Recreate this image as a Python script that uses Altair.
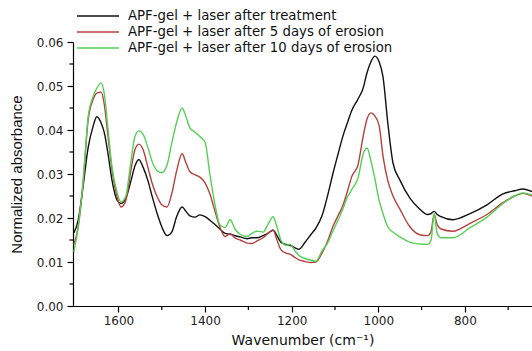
import altair as alt
import pandas as pd

# ---- data ----
wavenumber = [1703, 1693, 1682, 1670, 1659, 1650, 1640, 1633, 1624, 1615, 1603, 1594, 1583, 1571,
              1562, 1553, 1543, 1532, 1521, 1509, 1500, 1488, 1477, 1465, 1453, 1444, 1435, 1423,
              1412, 1400, 1389, 1377, 1366, 1354, 1342, 1331, 1319, 1303, 1292, 1280, 1266, 1255,
              1243, 1234, 1225, 1213, 1204, 1192, 1183, 1169, 1155, 1144, 1130, 1116, 1105, 1093,
              1082, 1070, 1061, 1047, 1035, 1026, 1017, 1008, 998, 989, 978, 966, 950, 927, 904,
              886, 878, 871, 864, 855, 828, 788, 749, 712, 685, 666, 645]

black = [.0166, .0195, .0270, .0360, .0407, .0430, .0416, .0395, .0345, .0286, .0240, .0233, .0245, .0285,
         .0318, .0333, .0315, .0285, .0245, .0205, .0180, .0160, .0168, .0205, .0225, .0215, .0205, .0202,
         .0207, .0203, .0195, .0185, .0175, .0165, .0163, .0160, .0157, .0153, .0155, .0155, .0160, .0165,
         .0172, .0160, .0145, .0140, .0138, .0132, .0129, .0145, .0163, .0177, .0205, .0255, .0300, .0345,
         .0385, .0420, .0445, .0470, .0495, .0530, .0555, .0568, .0555, .0520, .0416, .0325, .0286, .0245, .0220,
         .0208, .0210, .0215, .0208, .0203, .0196, .0210, .0230, .0255, .0262, .0266, .0260]

red = [.0140, .0180, .0275, .0423, .0468, .0484, .0486, .0460, .0384, .0310, .0248, .0225, .0240, .0310,
       .0355, .0368, .0355, .0315, .0275, .0245, .0230, .0225, .0255, .0310, .0346, .0325, .0305, .0298,
       .0293, .0280, .0255, .0215, .0180, .0158, .0164, .0155, .0150, .0143, .0142, .0148, .0155, .0165,
       .0173, .0150, .0128, .0120, .0118, .0110, .0105, .0101, .0099, .0100, .0120, .0150, .0180, .0205,
       .0228, .0265, .0295, .0320, .0385, .0425, .0439, .0432, .0410, .0340, .0285, .0250, .0220, .0180, .0162,
       .0160, .0170, .0208, .0185, .0175, .0170, .0188, .0208, .0235, .0250, .0256, .0250]

green = [.0123, .0180, .0280, .0430, .0475, .0495, .0507, .0484, .0400, .0316, .0257, .0236, .0250, .0330,
         .0385, .0398, .0390, .0360, .0325, .0306, .0303, .0320, .0370, .0420, .0450, .0430, .0405, .0395,
         .0385, .0372, .0300, .0230, .0185, .0178, .0196, .0175, .0163, .0158, .0165, .0170, .0168, .0185,
         .0203, .0180, .0150, .0138, .0140, .0125, .0115, .0108, .0104, .0102, .0125, .0145, .0170, .0195,
         .0220, .0250, .0265, .0290, .0345, .0359, .0330, .0290, .0240, .0210, .0180, .0168, .0157, .0145, .0141,
         .0140, .0150, .0210, .0165, .0155, .0155, .0178, .0202, .0233, .0250, .0257, .0252]

series_names = ["APF-gel + laser after treatment",
                "APF-gel + laser after 5 days of erosion",
                "APF-gel + laser after 10 days of erosion"]
colors = ["#111111", "#b5403f", "#55d055"]

x_major = [1600, 1400, 1200, 1000, 800]
x_minor = [1500, 1300, 1100, 900, 700]
y_major = [0.0, 0.01, 0.02, 0.03, 0.04, 0.05, 0.06]
y_minor = [0.005, 0.015, 0.025, 0.035, 0.045, 0.055]

# ---- build table ----
rows = []
for name, vals in zip(series_names, [black, red, green]):
    for w, v in zip(wavenumber, vals):
        rows.append({"wn": w, "ab": v, "series": name})
df = pd.DataFrame(rows)

W, H = 459, 264
FONT = "DejaVu Sans"

xscale = alt.Scale(domain=[645, 1705], reverse=True, nice=False, zero=False)
yscale = alt.Scale(domain=[0, 0.06], nice=False, zero=True)

x_axis = alt.Axis(values=x_major, format="d", title="Wavenumber (cm⁻¹)", grid=False,
                  domainColor="black", domainWidth=1.2, tickColor="black", tickWidth=1.2,
                  tickSize=6, labelPadding=3, labelFont=FONT, labelFontSize=12,
                  labelColor="#222222", titleFont=FONT, titleFontSize=14,
                  titleFontWeight="normal", titleColor="#111111", titlePadding=7,
                  labelFlush=False)
y_axis = alt.Axis(values=y_major, format=".2f", title="Normalized absorbance", grid=False,
                  domainColor="black", domainWidth=1.2, tickColor="black", tickWidth=1.2,
                  tickSize=6, labelPadding=4, labelFont=FONT, labelFontSize=12,
                  labelColor="#222222", titleFont="Liberation Sans", titleFontSize=15,
                  titleFontWeight="normal", titleColor="#111111", titlePadding=12,
                  labelFlush=False)

lines = alt.Chart(df).mark_line(strokeWidth=1.4, interpolate="monotone", clip=True).encode(
    x=alt.X("wn:Q", scale=xscale, axis=x_axis),
    y=alt.Y("ab:Q", scale=yscale, axis=y_axis),
    color=alt.Color("series:N", scale=alt.Scale(domain=series_names, range=colors), legend=None),
)

xminor = alt.Chart(pd.DataFrame({"wn": x_minor})).mark_rule(color="black", strokeWidth=1.2).encode(
    x=alt.X("wn:Q", scale=xscale, axis=x_axis),
    y=alt.value(H), y2=alt.value(H + 4),
)
yminor = alt.Chart(pd.DataFrame({"ab": y_minor})).mark_rule(color="black", strokeWidth=1.2).encode(
    y=alt.Y("ab:Q", scale=yscale, axis=y_axis),
    x=alt.value(-3.5), x2=alt.value(0),
)

legend_layers = []
row_y = [-26, -10, 6]
for name, col, yy in zip(series_names, colors, row_y):
    d = pd.DataFrame({"label": [name]})
    legend_layers.append(
        alt.Chart(d).mark_rule(color=col, strokeWidth=1.4).encode(
            x=alt.value(4), x2=alt.value(46), y=alt.value(yy))
    )
    legend_layers.append(
        alt.Chart(d).mark_text(align="left", baseline="middle", font=FONT, fontSize=13.3,
                               color="#111111").encode(
            x=alt.value(55), y=alt.value(yy), text="label:N")
    )

chart = alt.layer(lines, xminor, yminor, *legend_layers).properties(
    width=W, height=H,
    autosize=alt.AutoSizeParams(type="none"),
    padding={"left": 73, "top": 42, "right": 0, "bottom": 45},
    background="white",
).configure_view(stroke=None)

chart.save("out.html", embed_options={"renderer": "svg", "actions": False})
